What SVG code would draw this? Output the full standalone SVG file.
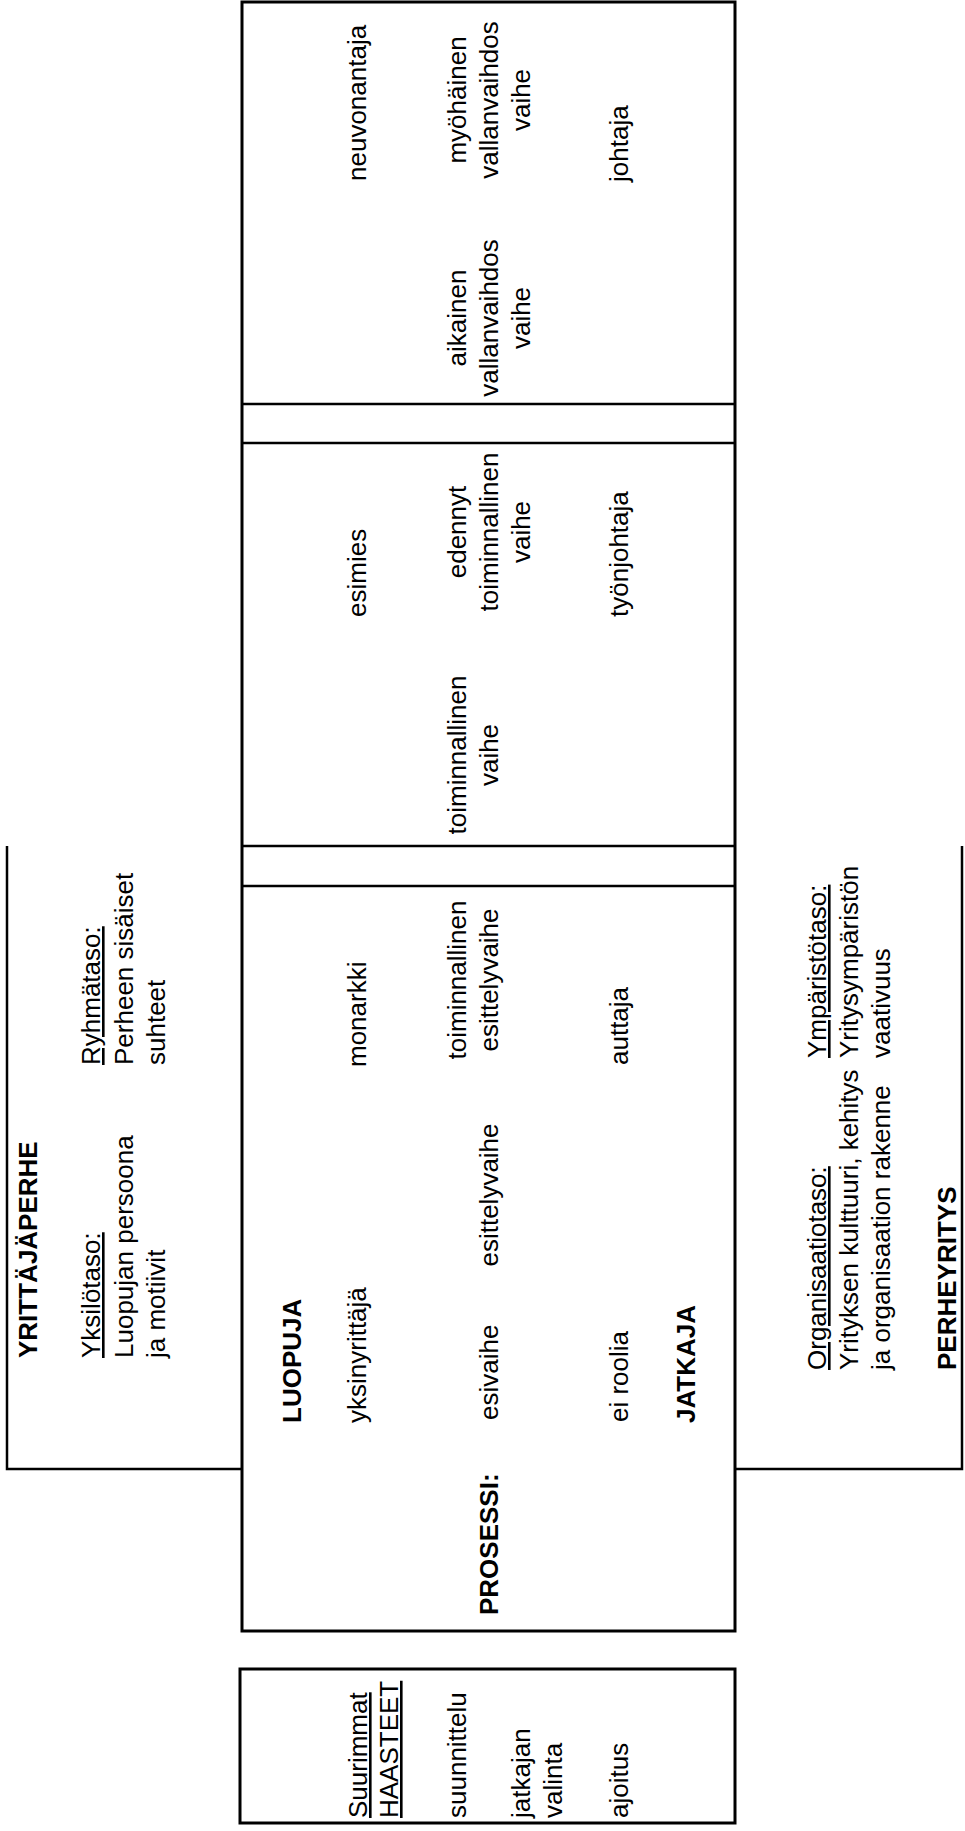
<svg xmlns="http://www.w3.org/2000/svg" width="965" height="1831" viewBox="0 0 965 1831">
<style>
.t{font-family:"Liberation Sans",Arial,sans-serif;font-size:26px;fill:#000}
.b{font-weight:bold}
.u{text-decoration:underline}
.m{text-anchor:middle}
.ln{fill:none;stroke:#000;stroke-width:2.5}
.bx{fill:#fff;stroke:#000;stroke-width:3}
</style>
<rect width="965" height="1831" fill="#fff"/>
<g id="connectors">
<path class="ln" d="M7,846 V1469 H242"/>
<path class="ln" d="M962,846 V1469 H735"/>
</g>
<g id="main">
<rect class="bx" x="242" y="2" width="493" height="1629"/>
<line class="ln" x1="242" y1="404" x2="735" y2="404"/>
<line class="ln" x1="242" y1="443" x2="735" y2="443"/>
<line class="ln" x1="242" y1="846" x2="735" y2="846"/>
<line class="ln" x1="242" y1="886" x2="735" y2="886"/>
</g>
<g id="challenges">
<rect class="bx" x="240" y="1669" width="495" height="154"/>
</g>
<g transform="rotate(-90)">
<g id="family">
<text class="t b" x="-1358" y="37">YRITTÄJÄPERHE</text>
<text class="t u" x="-1358" y="100">Yksilötaso:</text>
<text class="t" x="-1358" y="133">Luopujan persoona</text>
<text class="t" x="-1358" y="165">ja motiivit</text>
<text class="t u" x="-1065" y="100">Ryhmätaso:</text>
<text class="t" x="-1065" y="133">Perheen sisäiset</text>
<text class="t" x="-1065" y="165">suhteet</text>
</g>
<g id="company">
<text class="t u" x="-1370" y="826">Organisaatiotaso:</text>
<text class="t" x="-1370" y="858">Yrityksen kulttuuri, kehitys</text>
<text class="t" x="-1370" y="890">ja organisaation rakenne</text>
<text class="t b" x="-1370" y="956">PERHEYRITYS</text>
<text class="t u" x="-1058" y="826">Ympäristötaso:</text>
<text class="t" x="-1058" y="858">Yritysympäristön</text>
<text class="t" x="-1058" y="890">vaativuus</text>
</g>
<g id="phaseA">
<text class="t b" x="-1615" y="498">PROSESSI:</text>
<text class="t b" x="-1423" y="301">LUOPUJA</text>
<text class="t" x="-1423" y="366">yksinyrittäjä</text>
<text class="t" x="-1067" y="366">monarkki</text>
<text class="t" x="-1420" y="498">esivaihe</text>
<text class="t m" x="-1195" y="498">esittelyvaihe</text>
<text class="t m" x="-980" y="466">toiminnallinen</text>
<text class="t m" x="-980" y="498">esittelyvaihe</text>
<text class="t" x="-1422" y="628">ei roolia</text>
<text class="t" x="-1065" y="628">auttaja</text>
<text class="t b" x="-1423" y="695">JATKAJA</text>
</g>
<g id="phaseB">
<text class="t" x="-617" y="366">esimies</text>
<text class="t m" x="-755" y="466">toiminnallinen</text>
<text class="t m" x="-755" y="498">vaihe</text>
<text class="t m" x="-532" y="466">edennyt</text>
<text class="t m" x="-532" y="498">toiminnallinen</text>
<text class="t m" x="-532" y="530">vaihe</text>
<text class="t" x="-617" y="628">työnjohtaja</text>
</g>
<g id="phaseC">
<text class="t" x="-181" y="366">neuvonantaja</text>
<text class="t m" x="-318" y="466">aikainen</text>
<text class="t m" x="-318" y="498">vallanvaihdos</text>
<text class="t m" x="-318" y="530">vaihe</text>
<text class="t m" x="-100" y="466">myöhäinen</text>
<text class="t m" x="-100" y="498">vallanvaihdos</text>
<text class="t m" x="-100" y="530">vaihe</text>
<text class="t" x="-182" y="628">johtaja</text>
</g>
<g id="challenges-text">
<text class="t u" x="-1818" y="367">Suurimmat</text>
<text class="t u" x="-1818" y="398">HAASTEET</text>
<text class="t" x="-1818" y="466">suunnittelu</text>
<text class="t" x="-1818" y="530">jatkajan</text>
<text class="t" x="-1818" y="562">valinta</text>
<text class="t" x="-1818" y="628">ajoitus</text>
</g>
</g>
</svg>
